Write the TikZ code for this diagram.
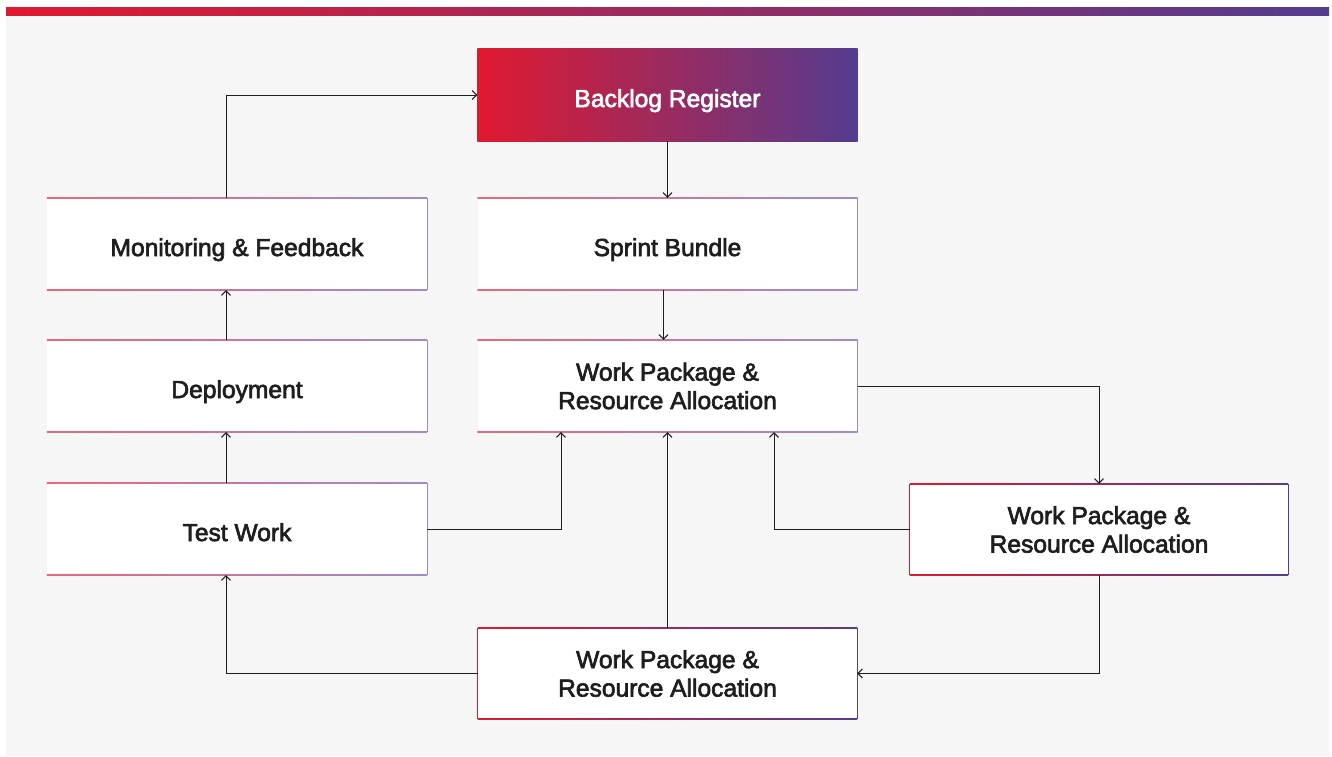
\documentclass[tikz,border=0pt]{standalone}
\usepackage{fontspec}
\setmainfont{Liberation Sans}
\newfontfamily\boxfont[BoldFont={Liberation Sans},BoldFeatures={FakeBold=2.6}]{Liberation Sans}
\usetikzlibrary{arrows.meta,calc}
\definecolor{cred}{HTML}{E1192F}
\definecolor{cmid}{HTML}{B2245A}
\definecolor{cpur}{HTML}{543C90}
\definecolor{lred}{HTML}{E8687B}
\definecolor{lpur}{HTML}{A08ACB}
\definecolor{bg}{HTML}{F6F6F6}
\definecolor{ink}{HTML}{1E1E1E}
\newcommand\thinedges[1]{%
  \shade[left color=lred,right color=lpur] ($(#1.north west)+(0,-0.5)$) rectangle ($(#1.north east)+(0,0.5)$);
  \shade[left color=lred,right color=lpur] ($(#1.south west)+(0,-0.5)$) rectangle ($(#1.south east)+(0,0.5)$);
  \draw[lpur,line width=1pt] (#1.north east) -- (#1.south east);}
\newcommand\fulledges[1]{%
  \shade[left color=cred,right color=cpur] ($(#1.north west)+(0,-0.6)$) rectangle ($(#1.north east)+(0,0.6)$);
  \shade[left color=cred,right color=cpur] ($(#1.south west)+(0,-0.6)$) rectangle ($(#1.south east)+(0,0.6)$);
  \draw[cpur,line width=1.2pt] (#1.north east) -- (#1.south east);
  \draw[cred,line width=1.2pt] (#1.north west) -- (#1.south west);}
\begin{document}
\begin{tikzpicture}[x=1pt,y=-1pt,
  box/.style={fill=white,minimum width=380pt,minimum height=92pt,inner sep=0pt,align=center,text=ink,
    font=\boxfont\bfseries\fontsize{24.6}{28.5}\selectfont},
  one/.style={text height=24pt,text depth=0pt},
  conn/.style={draw=ink,line width=1pt,-{Straight Barb[length=4.5pt,width=9pt,line width=1pt]}}]
\useasboundingbox (0,0) rectangle (1332,756);
\fill[white] (0,0) rectangle (1332,756);
\fill[bg] (6,15) rectangle (1329,756);
\shade[left color=cred,middle color=cmid,right color=cpur] (6,7) rectangle (1329,15);
% boxes
\node[box,fill=none,minimum height=92pt] (bl) at (667.5,95) {};
\shade[left color=cred,middle color=cmid,right color=cpur] (bl.north west) rectangle (bl.south east);
\node[box,one,fill=none,text=white] (bltext) at (bl.center) {Backlog Register};
\node[box,one] (mf) at (237,244) {Monitoring \& Feedback};
\node[box,one] (sb) at (667.5,244) {Sprint Bundle};
\node[box,one] (dp) at (237,386) {Deployment};
\node[box] (wpc) at (667.5,386) {Work Package \&\\Resource Allocation};
\node[box,one] (tw) at (237,529) {Test Work};
\node[box,minimum width=378pt,minimum height=91pt] (wpr) at (1099,529.5) {Work Package \&\\Resource Allocation};
\node[box,minimum width=379pt,minimum height=91pt] (wpb) at (667.5,673.5) {Work Package \&\\Resource Allocation};
\thinedges{mf}
\thinedges{sb}
\thinedges{dp}
\thinedges{wpc}
\thinedges{tw}
\fulledges{wpr}
\fulledges{wpb}
% connectors
\draw[conn] ([xshift=-11pt]mf.north) |- (bl.west);
\draw[conn] (bl.south) -- (sb.north);
\draw[conn] ([xshift=-4pt]sb.south) -- ([xshift=-4pt]wpc.north);
\draw[conn] ([xshift=-11pt]dp.north) -- ([xshift=-11pt]mf.south);
\draw[conn] ([xshift=-11pt]tw.north) -- ([xshift=-11pt]dp.south);
\draw[conn] (tw.east) -| ([xshift=-106.5pt]wpc.south);
\draw[conn] (wpc.east) -| (wpr.north);
\draw[conn] (wpr.west) -| ([xshift=106.5pt]wpc.south);
\draw[conn] (wpr.south) |- (wpb.east);
\draw[conn] (wpb.north) -- (wpc.south);
\draw[conn] (wpb.west) -| ([xshift=-11pt]tw.south);
\end{tikzpicture}
\end{document}
